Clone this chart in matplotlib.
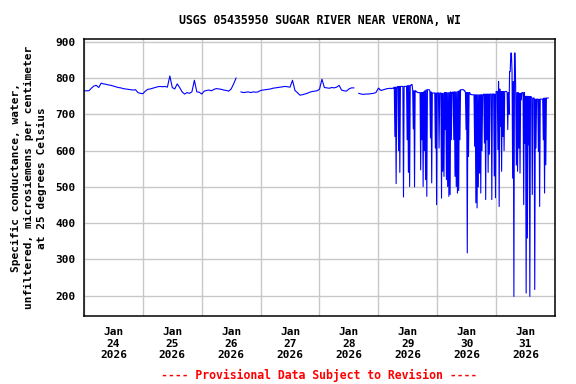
import numpy as np
import pandas as pd
import matplotlib
matplotlib.use("Agg")
import matplotlib.pyplot as plt
import matplotlib.dates as mdates

plt.rcParams['font.family'] = ['DejaVu Sans Mono']
plt.rcParams['font.weight'] = 'bold'
plt.rcParams['font.size'] = 8

TITLE = "USGS 05435950 SUGAR RIVER NEAR VERONA, WI"
YLABEL = "Specific conductance, water,\nunfiltered, microsiemens per centimeter\nat 25 degrees Celsius"
FOOTER = "---- Provisional Data Subject to Revision ----"

# hourly readings, Jan 24 00:00 .. Jan 28 23:00
jan24 = [765, 765, 765, 772, 778, 780, 774, 786, 784, 783, 781, 780,
         778, 776, 774, 773, 771, 770, 769, 768, 767, 768, 760, 758]
jan25 = [757, 764, 769, 770, 772, 774, 776, 777, 776, 777, 775, 806,
         774, 770, 784, 774, 762, 756, 760, 758, 762, 794, 762, 761]
jan26 = [756, 764, 766, 767, 765, 769, 771, 770, 769, 767, 766, 764,
         770, 784, 800, np.nan, 762, 760, 761, 762, 760, 762, 761, 762]
jan27 = [766, 767, 768, 769, 770, 772, 773, 774, 775, 776, 777, 776,
         775, 794, 766, 760, 753, 754, 756, 758, 761, 763, 764, 765]
jan28 = [769, 797, 774, 773, 772, 774, 773, 775, 780, 767, 765, 764,
         770, 773, 773, np.nan, 758, 756, 755, 756, 756, 757, 758, 760]

# Jan 29 - 31: readings on the hour/half hour (hi) and quarter past (lo)
jan29_hi = [772, 768, 766, 767, 768, 769, 770, 771, 771, 772, 771, 772,
            772, 775, 775, 775, 777, 777, 777, 777, 777, 777, 777, 778,
            779, 780, 780, 782, 765, 765, 765, 762, 760, 760, 760, 760,
            760, 762, 765, 768, 768, 768, 765, 762, 759, 759, 759, 759]
jan29_lo = [772, 768, 766, 767, 768, 769, 770, 771, 771, 772, 771, 772,
            772, 639, 509, 775, 600, 540, 777, 777, 472, 777, 777, 630,
            540, 501, 780, 782, 660, 500, 765, 762, 760, 760, 547, 630,
            501, 600, 520, 474, 768, 768, 635, 511, 759, 759, 607, 451]
jan30_hi = [759, 759, 759, 759, 758, 758, 760, 760, 760, 760, 760, 762,
            760, 762, 762, 762, 762, 764, 765, 768, 768, 768, 765, 760,
            760, 760, 760, 755, 754, 754, 754, 754, 754, 754, 754, 754,
            754, 754, 756, 756, 756, 756, 756, 756, 756, 756, 756, 756]
jan30_lo = [759, 607, 759, 469, 543, 529, 658, 520, 501, 474, 479, 630,
            760, 630, 529, 501, 483, 490, 630, 768, 768, 768, 765, 658,
            318, 584, 760, 755, 754, 754, 612, 456, 442, 500, 538, 483,
            600, 754, 621, 465, 630, 540, 590, 756, 465, 756, 530, 470]
jan31_hi = [763, 763, 791, 770, 763, 763, 763, 763, 763, 760, 760, 818,
            869, 815, 790, 869, 760, 760, 760, 758, 758, 760, 760, 760,
            750, 750, 750, 749, 749, 745, 745, 745, 742, 742, 742, 742,
            742, 742, 742, 745, 745, 745, 745]
jan31_lo = [763, 603, 446, 667, 543, 639, 600, 763, 763, 658, 700, 818,
            869, 524, 198, 869, 560, 543, 607, 538, 740, 760, 451, 620,
            207, 359, 616, 198, 749, 479, 745, 217, 607, 742, 598, 446,
            742, 742, 630, 483, 561, 745, 745]

hourly = np.array(jan24 + jan25 + jan26 + jan27 + jan28, dtype=float)
t_hourly = pd.date_range("2026-01-24 00:00", periods=len(hourly), freq="h")

hi = np.array(jan29_hi + jan30_hi + jan31_hi, dtype=float)
lo = np.array(jan29_lo + jan30_lo + jan31_lo, dtype=float)
quarter = np.column_stack([hi, lo]).ravel()
t_quarter = pd.date_range("2026-01-29 00:00", periods=len(quarter), freq="15min")

t = np.concatenate([t_hourly.values, t_quarter.values])
y = np.concatenate([hourly, quarter])

fig = plt.figure(figsize=(5.76, 3.84), dpi=100)
ax = fig.add_axes([0.1458, 0.1771, 0.8177, 0.7206])

ax.plot(t, y, color='#0000ff', linewidth=0.8)

ax.set_xlim(np.datetime64("2026-01-24T00:00"), np.datetime64("2026-02-01T00:00"))
ax.set_ylim(144, 907)
ax.set_yticks(np.arange(200, 901, 100))

ax.xaxis.set_major_locator(mdates.HourLocator(byhour=12))
ax.xaxis.set_major_formatter(mdates.DateFormatter("%b\n%d\n%Y"))
ax.xaxis.set_minor_locator(mdates.DayLocator())

ax.grid(True, which='minor', axis='x', color='#c8c8c8', linewidth=1.0)
ax.grid(True, which='major', axis='y', color='#c8c8c8', linewidth=1.0)
ax.grid(False, which='major', axis='x')
ax.set_axisbelow(True)

ax.tick_params(axis='both', which='both', length=0)
ax.tick_params(axis='x', pad=8)
ax.tick_params(axis='y', pad=6)
for sp in ax.spines.values():
    sp.set_linewidth(1.1)
    sp.set_color('black')

ax.set_title(TITLE, fontsize=8.3, fontweight='bold', pad=11)
ax.set_ylabel(YLABEL, fontsize=8, fontweight='bold', labelpad=6, linespacing=1.35)

fig.text(0.5547, 0.023, FOOTER, color='#ff0000', fontsize=8.3,
         fontweight='bold', ha='center', va='center')

fig.savefig("out.png", dpi=100)
